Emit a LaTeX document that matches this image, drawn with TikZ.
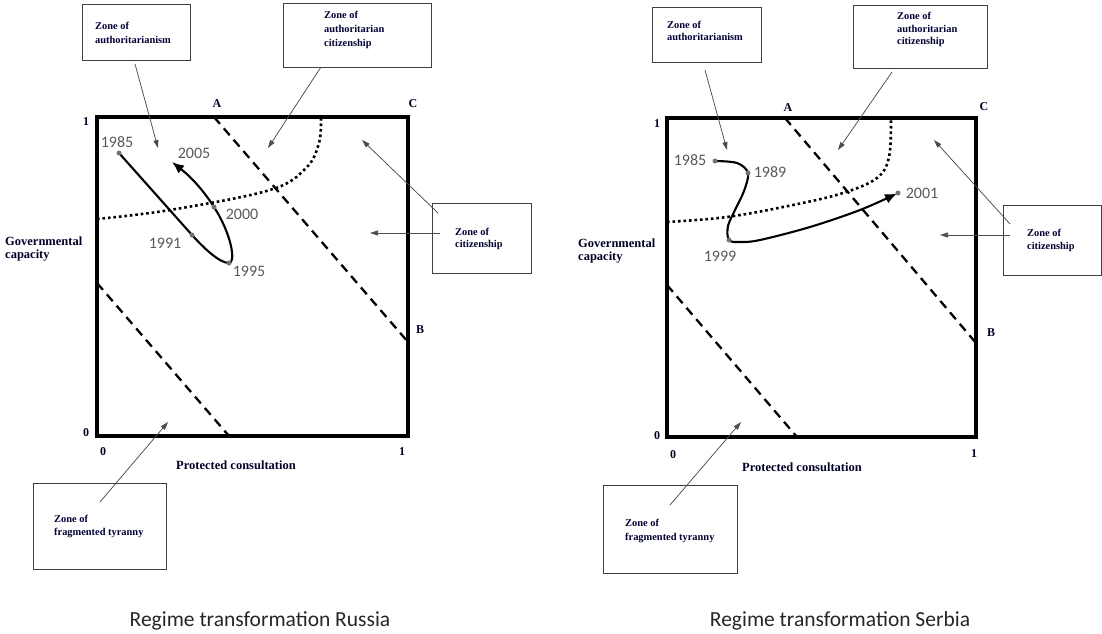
\documentclass[tikz,border=0pt]{standalone}
\usepackage{fontspec}
\setmainfont{Liberation Serif}
\newfontfamily\calfont{Carlito}
\usetikzlibrary{arrows.meta}

\begin{document}
\begin{tikzpicture}[x=1pt,y=-1pt,
  frame/.style={line width=3.6pt},
  zonebox/.style={draw=black!75, line width=0.8pt, rectangle, inner sep=0pt},
  zonetext/.style={font=\bfseries\fontsize{10.4}{#1}\selectfont, align=left, anchor=west, inner sep=0pt, text=black!80!blue},
  zonetext/.default=13.5,
  pointer/.style={draw=black!70, line width=0.75pt, -{Triangle[length=8pt,width=5pt]}},
  boundary/.style={line width=2.3pt, dash pattern=on 9pt off 6pt},
  regime/.style={line width=2.6pt, dash pattern=on 2.6pt off 2.9pt},
  track/.style={line width=2.1pt, line cap=round, -{Latex[length=12pt,width=10pt]}},
  year/.style={font=\calfont\fontsize{16}{16}\selectfont, text=black!65, inner sep=0pt},
  yeardot/.style={circle, fill=black!55, inner sep=0pt, minimum size=5pt},
  axisnum/.style={font=\bfseries\fontsize{12}{12}\selectfont, inner sep=0pt, text=black!85!blue},
  axislabel/.style={font=\bfseries\fontsize{12.5}{13}\selectfont, inner sep=0pt, align=left, text=black!85!blue},
  caption/.style={font=\calfont\fontsize{21.5}{22}\selectfont, inner sep=0pt, text=black!85},
]
\useasboundingbox (0,0) rectangle (1102,633);

% ================= Russia =================
\draw[frame] (97,117) rectangle (408,436);
\draw[boundary] (214,117) -- (408,342);
\draw[boundary] (97,283) -- (229,436);
\draw[regime] plot[smooth, tension=0.6] coordinates {(97,219) (170,210) (270,190) (306,168) (319,143) (321,118)};

\node[axisnum] (ry1) at (86,122) {1};
\node[axisnum] (ry0) at (86,433) {0};
\node[axisnum] (rx0) at (103,452) {0};
\node[axisnum] (rx1) at (402,452) {1};
\node[axisnum] (rA) at (217,104) {A};
\node[axisnum] (rC) at (413,104) {C};
\node[axisnum] (rB) at (420,330) {B};
\node[axislabel, anchor=west] (rgov) at (5,249.5) {Governmental\\capacity};
\node[axislabel] (rcon) at (236,465) {Protected consultation};

% trajectory
\coordinate (r85) at (119,153);
\coordinate (r91) at (192,235);
\coordinate (r95) at (229,263);
\coordinate (r00) at (214,207);
\coordinate (r05) at (172,162);
\draw[track] (r85) -- (r91)
  .. controls (205,249.5) and (220,263) .. (r95)
  .. controls (236,263) and (232,235) .. (r00)
  .. controls (200,185) and (186,173) .. (r05);
\node[yeardot] (d85) at (r85) {};
\node[yeardot] (d91) at (r91) {};
\node[yeardot] (d95) at (r95) {};
\node[yeardot] (d00) at (r00) {};
\node[year] (t85) at (117,142) {1985};
\node[year] (t05) at (194,153) {2005};
\node[year] (t00) at (242,214) {2000};
\node[year] (t91) at (165,243) {1991};
\node[year] (t95) at (249,271) {1995};

% zones
\node[zonebox, minimum width=108pt, minimum height=56pt] (rz1) at (136,32) {};
\node[zonetext=14] at (95,33) {Zone of\\authoritarianism};
\node[zonebox, minimum width=148pt, minimum height=64pt] (rz2) at (357,35) {};
\node[zonetext=14] at (324,30) {Zone of\\authoritarian\\citizenship};
\node[zonebox, minimum width=99pt, minimum height=70pt] (rz3) at (481.5,238) {};
\node[zonetext=12] at (455,239) {Zone of\\citizenship};
\node[zonebox, minimum width=133pt, minimum height=86pt] (rz4) at (99.5,526) {};
\node[zonetext=13] at (54,526.5) {Zone of\\fragmented tyranny};

\coordinate (rp1s) at (135,64);
\coordinate (rp1e) at (158,148);
\coordinate (rp2s) at (321,67);
\coordinate (rp2e) at (268,148);
\coordinate (rp3s) at (440,233);
\coordinate (rp3e) at (370,233);
\coordinate (rp4s) at (438,213);
\coordinate (rp4e) at (362,140);
\coordinate (rp5s) at (100,502);
\coordinate (rp5e) at (168,422);
\draw[pointer] (rp1s) -- (rp1e);
\draw[pointer] (rp2s) -- (rp2e);
\draw[pointer] (rp3s) -- (rp3e);
\draw[pointer] (rp4s) -- (rp4e);
\draw[pointer] (rp5s) -- (rp5e);

\node[caption] (rcap) at (260,621) {Regime transformation Russia};

% ================= Serbia =================
\draw[frame] (667,118) rectangle (976,437);
\draw[boundary] (785,118) -- (976,343);
\draw[boundary] (667,285) -- (797,437);
\draw[regime] plot[smooth, tension=0.6] coordinates {(667,222) (727,217) (793,205) (843,193) (877,178) (889,157) (891,119)};

\node[axisnum] (sy1) at (657,124) {1};
\node[axisnum] (sy0) at (657,436) {0};
\node[axisnum] (sx0) at (673,455) {0};
\node[axisnum] (sx1) at (974,454) {1};
\node[axisnum] (sA) at (788,108) {A};
\node[axisnum] (sC) at (984,107) {C};
\node[axisnum] (sB) at (991,333) {B};
\node[axislabel, anchor=west] (sgov) at (578,251.5) {Governmental\\capacity};
\node[axislabel] (scon) at (802,467) {Protected consultation};

% trajectory
\coordinate (s85) at (715,161);
\coordinate (s89) at (748,173);
\coordinate (s99) at (729,240);
\coordinate (s01) at (898,193);
\coordinate (s01t) at (897,193.5);
\draw[track] plot[smooth, tension=0.55] coordinates {(s85) (737,163) (s89) (744,191) (736,208) (728,226) (s99) (740,242) (760,240) (810,227) (860,210) (s01t)};
\node[yeardot] (e85) at (s85) {};
\node[yeardot] (e89) at (s89) {};
\node[yeardot] (e99) at (s99) {};
\node[yeardot] (e01) at (s01) {};
\node[year] (u85) at (690,160) {1985};
\node[year] (u89) at (770,172) {1989};
\node[year] (u01) at (922,193) {2001};
\node[year] (u99) at (720,256) {1999};

% zones
\node[zonebox, minimum width=109pt, minimum height=55pt] (sz1) at (706.5,34.5) {};
\node[zonetext=12] at (667,31) {Zone of\\authoritarianism};
\node[zonebox, minimum width=134pt, minimum height=63pt] (sz2) at (920,36.5) {};
\node[zonetext=12.5] at (897,29.5) {Zone of\\authoritarian\\citizenship};
\node[zonebox, minimum width=98pt, minimum height=70pt] (sz3) at (1052,240) {};
\node[zonetext=13] at (1027,240) {Zone of\\citizenship};
\node[zonebox, minimum width=134pt, minimum height=88pt] (sz4) at (670,529) {};
\node[zonetext=14] at (625,531) {Zone of\\fragmented tyranny};

\coordinate (sp1s) at (705,70);
\coordinate (sp1e) at (727,150);
\coordinate (sp2s) at (892,72);
\coordinate (sp2e) at (838,150);
\coordinate (sp3s) at (1010,235);
\coordinate (sp3e) at (940,235);
\coordinate (sp4s) at (1010,224);
\coordinate (sp4e) at (934,140);
\coordinate (sp5s) at (670,505);
\coordinate (sp5e) at (741,422);
\draw[pointer] (sp1s) -- (sp1e);
\draw[pointer] (sp2s) -- (sp2e);
\draw[pointer] (sp3s) -- (sp3e);
\draw[pointer] (sp4s) -- (sp4e);
\draw[pointer] (sp5s) -- (sp5e);

\node[caption] (scap) at (840,621) {Regime transformation Serbia};
\end{tikzpicture}
\end{document}
